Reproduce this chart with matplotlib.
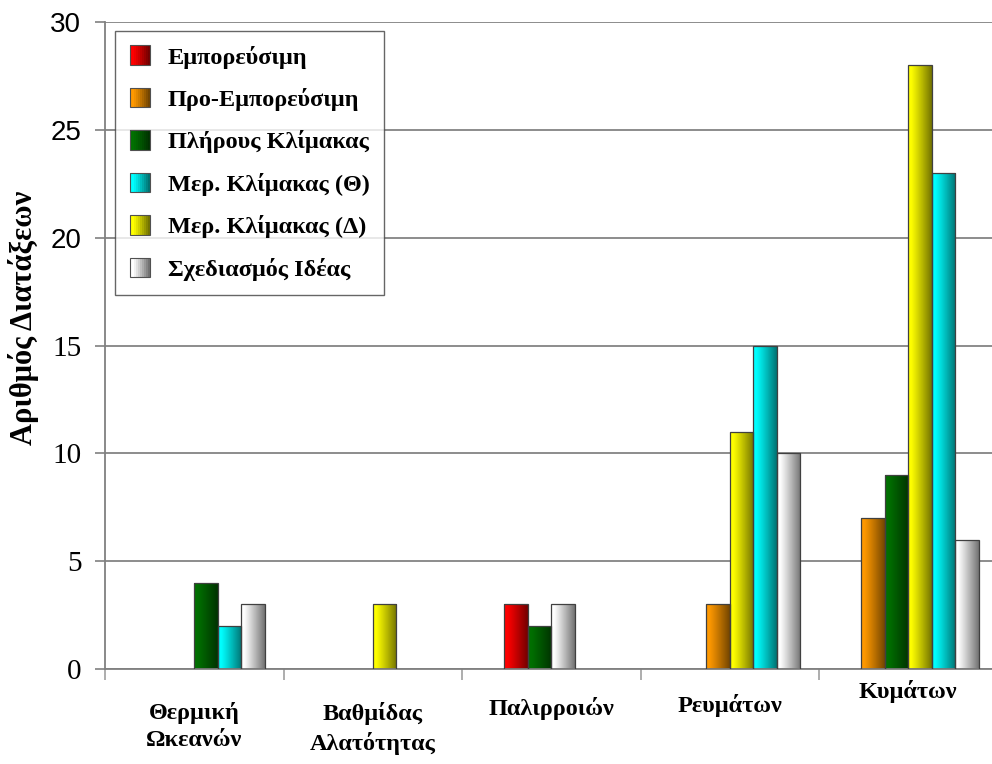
import matplotlib
matplotlib.use("Agg")
import matplotlib.pyplot as plt
import numpy as np
from matplotlib.patches import Rectangle
from matplotlib.legend_handler import HandlerBase
from matplotlib.transforms import blended_transform_factory

# data
categories = ["Θερμική\nΩκεανών", "Βαθμίδας\nΑλατότητας", "Παλιρροιών", "Ρευμάτων", "Κυμάτων"]
emporeusimi = [0, 0, 3, 0, 0]
pro_emporeusimi = [0, 0, 0, 3, 7]
plirous = [4, 0, 2, 0, 9]
mer_theta = [2, 0, 0, 15, 23]
mer_delta = [0, 3, 0, 11, 28]
sxediasmos = [3, 0, 3, 10, 6]

series_names = ["Εμπορεύσιμη", "Προ-Εμπορεύσιμη", "Πλήρους Κλίμακας",
                "Μερ. Κλίμακας (Θ)", "Μερ. Κλίμακας (Δ)", "Σχεδιασμός Ιδέας"]
yticks = [0, 5, 10, 15, 20, 25, 30]

# style
colors = {
    "Εμπορεύσιμη": "#ff0000",
    "Προ-Εμπορεύσιμη": "#ff9900",
    "Πλήρους Κλίμακας": "#007000",
    "Μερ. Κλίμακας (Θ)": "#00ffff",
    "Μερ. Κλίμακας (Δ)": "#ffff00",
    "Σχεδιασμός Ιδέας": "#ffffff",
}
series_values = dict(zip(series_names, [emporeusimi, pro_emporeusimi, plirous,
                                        mer_theta, mer_delta, sxediasmos]))
# bars are drawn in this order inside each group (yellow before cyan)
draw_order = ["Εμπορεύσιμη", "Προ-Εμπορεύσιμη", "Πλήρους Κλίμακας",
              "Μερ. Κλίμακας (Δ)", "Μερ. Κλίμακας (Θ)", "Σχεδιασμός Ιδέας"]
first_slot = [3, 3, 1, 2, 1]
bar_w = 0.132


def gradient(base, n=64):
    rgb = np.array(matplotlib.colors.to_rgb(base))
    t = np.linspace(0, 1, n)
    f = 1 - 0.55 * np.clip((t - 0.12) / 0.88, 0, 1) ** 1.1
    return (rgb[None, :] * f[:, None])[None, :, :]


class GradientHandler(HandlerBase):
    def create_artists(self, legend, orig_handle, xdescent, ydescent,
                       width, height, fontsize, trans):
        size = 14.0
        x0 = -xdescent + (width - size) / 2
        y0 = -ydescent + (height - size) / 2
        grad = gradient(orig_handle.get_facecolor(), 10)[0]
        arts = []
        n = len(grad)
        for i, c in enumerate(grad):
            arts.append(Rectangle((x0 + i * size / n, y0), size / n + 0.3, size,
                                  facecolor=c, edgecolor="none", transform=trans))
        arts.append(Rectangle((x0, y0), size, size, facecolor="none",
                              edgecolor="#505050", lw=0.8, transform=trans))
        return arts


fig = plt.figure(figsize=(9.92, 7.64), dpi=100)
ax = fig.add_axes([105 / 992, 95 / 764, 892.5 / 992, 647 / 764])

# assign slots: non-zero bars are packed side by side
positions = {name: ([], []) for name in draw_order}
for i in range(len(categories)):
    slot = first_slot[i]
    for name in draw_order:
        v = series_values[name][i]
        if v:
            positions[name][0].append(i + (slot - 2.5) * bar_w)
            positions[name][1].append(v)
            slot += 1

for name in draw_order:
    xs, hs = positions[name]
    bars = ax.bar(xs, hs, width=bar_w, facecolor="none", edgecolor="#404040",
                  linewidth=0.9, zorder=3)
    for b in bars:
        im = ax.imshow(gradient(colors[name]), aspect="auto", zorder=2.5,
                       extent=(b.get_x(), b.get_x() + b.get_width(), 0, b.get_height()),
                       interpolation="bilinear")
        im.set_clip_path(b)

ax.set_xlim(-0.5, 4.5)
ax.set_ylim(0, 30)
ax.set_yticks(yticks)
ax.set_yticklabels([str(t) for t in yticks])
for t, lab in zip(yticks, ax.get_yticklabels()):
    if t >= 20:
        lab.set_fontfamily("Liberation Sans")
        lab.set_fontsize(20)
    else:
        lab.set_fontfamily("Liberation Serif")
        lab.set_fontsize(21)
ax.yaxis.grid(True, color="#8c8c8c", linewidth=1.4)
ax.set_axisbelow(True)
ax.tick_params(axis="y", direction="out", length=7, width=1.2, color="#808080", pad=10)
ax.set_xticks([])
ax.set_xticks(np.arange(-0.5, 5, 1), minor=True)
ax.tick_params(axis="x", which="minor", direction="out", length=8, width=1.2, color="#a0a0a0")
for s in ["top", "right"]:
    ax.spines[s].set_visible(False)
for s in ["left", "bottom"]:
    ax.spines[s].set_color("#808080")
    ax.spines[s].set_linewidth(1.3)

# category labels
tr = blended_transform_factory(ax.transData, fig.transFigure)
label_top = [702, 702, 697, 694, 680]
for i, lab in enumerate(categories):
    ax.text(i, 1 - label_top[i] / 764, lab, transform=tr, ha="center", va="top",
            fontsize=17.5, fontweight="bold", family="Liberation Serif",
            linespacing=1.4, clip_on=False)

fig.text(24 / 992, 1 - 318 / 764, "Αριθμός Διατάξεων", rotation=90,
         ha="center", va="center", fontsize=22, fontweight="bold",
         family="Liberation Serif")

legend_order = ["Εμπορεύσιμη", "Προ-Εμπορεύσιμη", "Πλήρους Κλίμακας",
                "Μερ. Κλίμακας (Θ)", "Μερ. Κλίμακας (Δ)", "Σχεδιασμός Ιδέας"]
handles = [Rectangle((0, 0), 1, 1, facecolor=colors[n]) for n in legend_order]
leg = ax.legend(handles, legend_order, handler_map={Rectangle: GradientHandler()},
                loc="upper left", bbox_to_anchor=(115 / 992, 1 - 31 / 764),
                bbox_transform=fig.transFigure, frameon=True, fancybox=False,
                prop={"family": "Liberation Serif", "weight": "bold", "size": 17.5},
                handlelength=0.85, handleheight=0.8, handletextpad=0.72,
                labelspacing=0.8, borderpad=0.6, borderaxespad=0)
leg.get_frame().set_edgecolor("#404040")
leg.get_frame().set_linewidth(1.0)

fig.savefig("out.png", dpi=100)
